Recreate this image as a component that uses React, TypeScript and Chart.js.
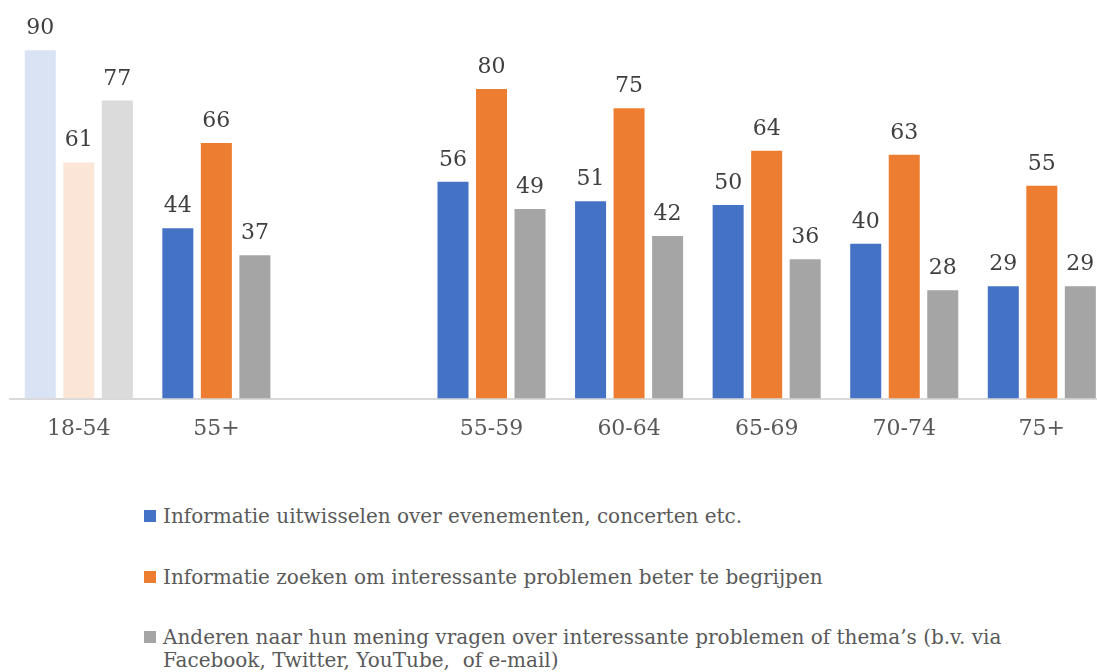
import React, { useEffect, useRef } from 'react';
import { Chart, registerables } from 'chart.js';

Chart.register(...registerables);

const categories = ['18-54', '55+', '', '55-59', '60-64', '65-69', '70-74', '75+'];
const seriesNames = [
  'Informatie uitwisselen over evenementen, concerten etc.',
  'Informatie zoeken om interessante problemen beter te begrijpen',
  'Anderen naar hun mening vragen over interessante problemen of thema\u2019s (b.v. via\nFacebook, Twitter, YouTube,  of e-mail)',
];
const exchangeInfo = [90, 44, null, 56, 51, 50, 40, 29];
const seekInfo = [61, 66, null, 80, 75, 64, 63, 55];
const askOthers = [77, 37, null, 49, 42, 36, 28, 29];

const baseColors = ['#4472C4', '#ED7D31', '#A5A5A5'];
const fadedColors = ['#DAE3F3', '#FBE5D6', '#DBDBDB'];
const FONT = '"DejaVu Serif", serif';

const valueLabelPlugin = {
  id: 'valueLabels',
  afterDatasetsDraw(chart: any) {
    const ctx = chart.ctx;
    ctx.save();
    ctx.font = `22px ${FONT}`;
    ctx.fillStyle = '#404040';
    ctx.textAlign = 'center';
    ctx.textBaseline = 'alphabetic';
    chart.data.datasets.forEach((ds: any, di: number) => {
      const meta = chart.getDatasetMeta(di);
      meta.data.forEach((el: any, i: number) => {
        const v = ds.data[i];
        if (v == null) return;
        ctx.fillText(String(v), el.x, el.y - 16);
      });
    });
    ctx.restore();
  },
};

export default function App() {
  const canvasRef = useRef<HTMLCanvasElement | null>(null);

  useEffect(() => {
    if (!canvasRef.current) return;
    const seriesData = [exchangeInfo, seekInfo, askOthers];
    const chart = new Chart(canvasRef.current, {
      type: 'bar',
      data: {
        labels: categories,
        datasets: seriesData.map((d, si) => ({
          label: seriesNames[si],
          data: d,
          backgroundColor: categories.map((_, ci) => (ci === 0 ? fadedColors[si] : baseColors[si])),
          borderWidth: 0,
          categoryPercentage: 0.84,
          barPercentage: 0.805,
        })),
      },
      options: {
        responsive: false,
        animation: false,
        devicePixelRatio: 1,
        layout: { padding: { left: 10, right: 9.4, top: 11.5, bottom: 0 } },
        plugins: {
          legend: { display: false },
          tooltip: { enabled: false },
        },
        scales: {
          x: {
            grid: { display: false },
            border: { display: true, color: '#D9D9D9', width: 2 },
            ticks: {
              color: '#595959',
              font: { family: FONT, size: 22 },
              padding: 9,
              maxRotation: 0,
              autoSkip: false,
            },
          },
          y: { display: false, min: 0, max: 100 },
        },
      },
      plugins: [valueLabelPlugin],
    } as any);
    return () => chart.destroy();
  }, []);

  const legendTops = [504.5, 565.5, 625.5];

  return (
    <div
      style={{
        position: 'absolute',
        left: 0,
        top: 0,
        width: 1097,
        height: 672,
        overflow: 'hidden',
        background: '#fff',
      }}
    >
      <canvas
        ref={canvasRef}
        width={1120}
        height={451}
        style={{ position: 'absolute', left: 0, top: 0, width: 1120, height: 451 }}
      />
      {seriesNames.map((name, i) => (
        <div
          key={i}
          style={{
            position: 'absolute',
            left: 144,
            top: legendTops[i],
            display: 'flex',
            alignItems: 'flex-start',
            fontFamily: FONT,
            fontSize: 20,
            lineHeight: '23px',
            color: '#595959',
            whiteSpace: 'pre',
          }}
        >
          <span
            style={{
              display: 'inline-block',
              width: 12,
              height: 12,
              marginTop: 5,
              marginRight: 7,
              background: baseColors[i],
              flex: 'none',
            }}
          />
          <span>{name}</span>
        </div>
      ))}
    </div>
  );
}
